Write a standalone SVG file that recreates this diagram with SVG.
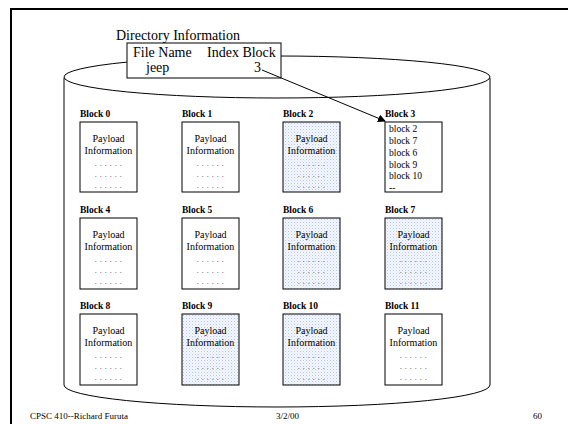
<svg xmlns="http://www.w3.org/2000/svg" width="568" height="424" viewBox="0 0 568 424">
<defs>
<pattern id="dots" width="3" height="3" patternUnits="userSpaceOnUse">
<rect width="3" height="3" fill="#f4f7fd"/>
<rect width="1" height="1" fill="#b3c7ec"/>
<rect x="1.5" y="1.5" width="1" height="1" fill="#d0ddf4"/>
</pattern>
<marker id="ah" markerWidth="8" markerHeight="8" refX="7" refY="4" orient="auto" markerUnits="userSpaceOnUse">
<path d="M0,0 L8,4 L0,8 z" fill="#000"/>
</marker>
</defs>
<style>
.t{font-family:"Liberation Serif","Times New Roman",serif;fill:#000}
.big{font-size:14px}
.lbl{font-size:9.5px;font-weight:bold}
.pl{font-size:10px;text-anchor:middle}
.ls{font-size:9.5px}
.dt{font-size:8px;text-anchor:middle;letter-spacing:0.5px;fill:#333}
.box{fill:#fff;stroke:#000;stroke-width:1}
.sh{fill:url(#dots);stroke:#000;stroke-width:1}
.ln{fill:none;stroke:#000;stroke-width:1}
.ft{font-size:9px}
</style>
<rect width="568" height="424" fill="#fff"/>
<path d="M11,424 V9 H568" fill="none" stroke="#000" stroke-width="2"/>
<g id="cylinder">
<path class="ln" d="M64,78 V385 A213,22 0 0 0 490,385 V78"/>
<ellipse class="ln" cx="277" cy="77" rx="213" ry="21"/>
</g>
<g id="directory">
<text class="t big" x="116" y="40">Directory Information</text>
<rect class="box" x="127" y="43" width="154" height="35"/>
<text class="t big" x="133" y="57">File Name</text>
<text class="t big" x="207" y="57">Index Block</text>
<text class="t big" x="146" y="72">jeep</text>
<text class="t big" x="254" y="72">3</text>
</g>
<g id="connectors">
<line class="ln" x1="262" y1="70" x2="385" y2="121" marker-end="url(#ah)"/>
</g>
<g id="block0"><text class="t lbl" x="80" y="117">Block 0</text><rect class="box" x="80" y="122" width="57" height="70"/><text class="t pl" x="108.5" y="142">Payload</text><text class="t pl" x="108.5" y="154">Information</text><text class="t dt" x="108.5" y="166">. . . . . .</text><text class="t dt" x="108.5" y="177">. . . . . .</text><text class="t dt" x="108.5" y="188">. . . . . .</text></g>
<g id="block1"><text class="t lbl" x="182" y="117">Block 1</text><rect class="box" x="182" y="122" width="57" height="70"/><text class="t pl" x="210.5" y="142">Payload</text><text class="t pl" x="210.5" y="154">Information</text><text class="t dt" x="210.5" y="166">. . . . . .</text><text class="t dt" x="210.5" y="177">. . . . . .</text><text class="t dt" x="210.5" y="188">. . . . . .</text></g>
<g id="block2"><text class="t lbl" x="283" y="117">Block 2</text><rect class="sh" x="283" y="122" width="57" height="70"/><text class="t pl" x="311.5" y="142">Payload</text><text class="t pl" x="311.5" y="154">Information</text><text class="t dt" x="311.5" y="166">. . . . . .</text><text class="t dt" x="311.5" y="177">. . . . . .</text><text class="t dt" x="311.5" y="188">. . . . . .</text></g>
<g id="block3"><text class="t lbl" x="385" y="117">Block 3</text><rect class="box" x="385" y="122" width="57" height="70"/><text class="t ls" x="389" y="132">block 2</text><text class="t ls" x="389" y="144">block 7</text><text class="t ls" x="389" y="156">block 6</text><text class="t ls" x="389" y="168">block 9</text><text class="t ls" x="389" y="179">block 10</text><text class="t ls" x="389" y="191">--</text></g>
<g id="block4"><text class="t lbl" x="80" y="213">Block 4</text><rect class="box" x="80" y="218" width="57" height="71"/><text class="t pl" x="108.5" y="238">Payload</text><text class="t pl" x="108.5" y="250">Information</text><text class="t dt" x="108.5" y="262">. . . . . .</text><text class="t dt" x="108.5" y="273">. . . . . .</text><text class="t dt" x="108.5" y="284">. . . . . .</text></g>
<g id="block5"><text class="t lbl" x="182" y="213">Block 5</text><rect class="box" x="182" y="218" width="57" height="71"/><text class="t pl" x="210.5" y="238">Payload</text><text class="t pl" x="210.5" y="250">Information</text><text class="t dt" x="210.5" y="262">. . . . . .</text><text class="t dt" x="210.5" y="273">. . . . . .</text><text class="t dt" x="210.5" y="284">. . . . . .</text></g>
<g id="block6"><text class="t lbl" x="283" y="213">Block 6</text><rect class="sh" x="283" y="218" width="57" height="71"/><text class="t pl" x="311.5" y="238">Payload</text><text class="t pl" x="311.5" y="250">Information</text><text class="t dt" x="311.5" y="262">. . . . . .</text><text class="t dt" x="311.5" y="273">. . . . . .</text><text class="t dt" x="311.5" y="284">. . . . . .</text></g>
<g id="block7"><text class="t lbl" x="385" y="213">Block 7</text><rect class="sh" x="385" y="218" width="57" height="71"/><text class="t pl" x="413.5" y="238">Payload</text><text class="t pl" x="413.5" y="250">Information</text><text class="t dt" x="413.5" y="262">. . . . . .</text><text class="t dt" x="413.5" y="273">. . . . . .</text><text class="t dt" x="413.5" y="284">. . . . . .</text></g>
<g id="block8"><text class="t lbl" x="80" y="309">Block 8</text><rect class="box" x="80" y="314" width="57" height="71"/><text class="t pl" x="108.5" y="334">Payload</text><text class="t pl" x="108.5" y="346">Information</text><text class="t dt" x="108.5" y="358">. . . . . .</text><text class="t dt" x="108.5" y="369">. . . . . .</text><text class="t dt" x="108.5" y="380">. . . . . .</text></g>
<g id="block9"><text class="t lbl" x="182" y="309">Block 9</text><rect class="sh" x="182" y="314" width="57" height="71"/><text class="t pl" x="210.5" y="334">Payload</text><text class="t pl" x="210.5" y="346">Information</text><text class="t dt" x="210.5" y="358">. . . . . .</text><text class="t dt" x="210.5" y="369">. . . . . .</text><text class="t dt" x="210.5" y="380">. . . . . .</text></g>
<g id="block10"><text class="t lbl" x="283" y="309">Block 10</text><rect class="sh" x="283" y="314" width="57" height="71"/><text class="t pl" x="311.5" y="334">Payload</text><text class="t pl" x="311.5" y="346">Information</text><text class="t dt" x="311.5" y="358">. . . . . .</text><text class="t dt" x="311.5" y="369">. . . . . .</text><text class="t dt" x="311.5" y="380">. . . . . .</text></g>
<g id="block11"><text class="t lbl" x="385" y="309">Block 11</text><rect class="box" x="385" y="314" width="57" height="71"/><text class="t pl" x="413.5" y="334">Payload</text><text class="t pl" x="413.5" y="346">Information</text><text class="t dt" x="413.5" y="358">. . . . . .</text><text class="t dt" x="413.5" y="369">. . . . . .</text><text class="t dt" x="413.5" y="380">. . . . . .</text></g>
<g id="footer">
<text class="t ft" x="30" y="419">CPSC 410--Richard Furuta</text>
<text class="t ft" x="276" y="419">3/2/00</text>
<text class="t ft" x="533" y="419">60</text>
</g>
</svg>
